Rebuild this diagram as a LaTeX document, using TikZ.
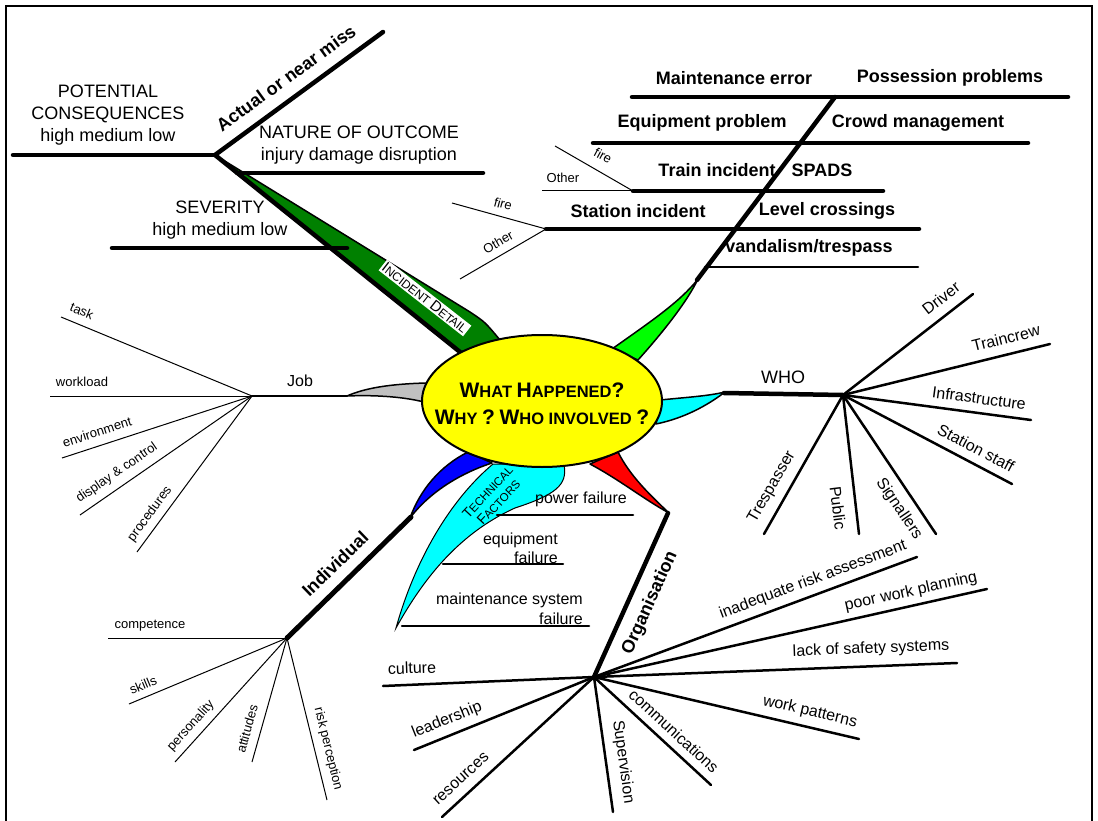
\documentclass[tikz,border=0pt]{standalone}
\usepackage{fontspec}
\setmainfont{Liberation Sans}
\usetikzlibrary{shapes.geometric}
\definecolor{idgreen}{RGB}{0,128,0}
\definecolor{limeg}{RGB}{0,255,0}
\definecolor{cyanc}{RGB}{0,255,255}
\definecolor{jobgrey}{RGB}{192,192,192}
\definecolor{blueb}{RGB}{0,0,255}
\definecolor{redr}{RGB}{255,0,0}
\definecolor{yellowc}{RGB}{255,255,0}
\newcommand\Bg[1]{{\fontsize{21}{27}\selectfont #1}}
\newcommand\Bi[1]{{\fontsize{15}{18}\selectfont #1}}
\newcommand\Bt[1]{{\fontsize{14}{16}\selectfont #1}}
\begin{document}
\begin{tikzpicture}[x=1pt,y=-1pt,
  thickln/.style={line width=4.5pt, line cap=round},
  medln/.style={line width=2.5pt, line cap=round},
  thinln/.style={line width=1pt},
  wedge/.style={draw=black, line width=1.5pt, line join=round},
  lbl/.style={inner sep=0pt, font=\fontsize{16}{19}\selectfont},
  biglbl/.style={inner sep=0pt, font=\fontsize{18}{22}\selectfont, align=center},
  boldlbl/.style={inner sep=0pt, font=\fontsize{18}{22}\selectfont\bfseries},
  smalllbl/.style={inner sep=0pt, font=\fontsize{13}{15}\selectfont},
]
\useasboundingbox (0,0) rectangle (1098,821);
% frame
\draw[line width=2.5pt] (6,821) -- (6,6) -- (1092,6) -- (1092,821);

% ---------- wedges ----------
\draw[wedge, fill=idgreen] (215,155) -- (470,312) .. controls (485,322) .. (500,340) -- (460,352) -- cycle;
\draw[wedge, fill=limeg] (612,349) .. controls (650,322) and (680,302) .. (698,279) .. controls (688,300) and (665,330) .. (638,360) -- cycle;
\draw[wedge, fill=cyanc] (660,400) .. controls (690,397) and (708,396) .. (725,392) .. controls (708,405) and (685,418) .. (656,424) -- cycle;
\draw[wedge, fill=jobgrey] (426,383) .. controls (390,384) and (365,388) .. (347,396) .. controls (370,395) and (400,396) .. (424,402) -- cycle;
\draw[wedge, fill=blueb] (468,452) .. controls (440,466) and (420,490) .. (410,518) .. controls (428,494) and (458,474) .. (492,463) -- cycle;
\draw[wedge, fill=redr] (590,464) .. controls (620,480) and (645,500) .. (669,513) .. controls (650,495) and (630,476) .. (618,452) -- cycle;
\draw[line width=1pt, fill=cyanc] (493,464) .. controls (450,500) and (415,560) .. (396,628) .. controls (420,585) and (455,535) .. (515,508) .. controls (555,495) and (568,485) .. (564,465) -- cycle;

% ---------- incident detail ----------
\coordinate (J1) at (215,155);
\coordinate (PC) at (13,155);
\coordinate (AN) at (383,32);
\coordinate (NOa) at (237,173); \coordinate (NOb) at (483,173);
\coordinate (SVa) at (112,248); \coordinate (SVb) at (347,248);
\coordinate (IDb) at (460,352);
\draw[thickln] (PC) -- (J1);
\draw[thickln] (J1) -- (AN);
\draw[thickln] (J1) -- (IDb);
\draw[thickln] (NOa) -- (NOb);
\draw[thickln] (SVa) -- (SVb);
\node[biglbl] (tPC) at (108,115) {POTENTIAL\\CONSEQUENCES\\high medium low};
\node[biglbl] (tNO) at (359,145) {NATURE OF OUTCOME\\injury damage disruption};
\node[biglbl] (tSV) at (220,220) {SEVERITY\\high medium low};
\node[boldlbl, rotate=36] (tAN) at (286,78) {Actual or near miss};
\node[fill=white, inner sep=1.5pt, rotate=-38, font=\fontsize{12}{14}\selectfont] (tID) at (425,298) {\Bi{I}NCIDENT \Bi{D}ETAIL};

% ---------- what happened (top right) ----------
\coordinate (S0) at (697,280); \coordinate (S1) at (835,97);
\coordinate (MEa) at (632,97); \coordinate (MEb) at (1068,97);
\coordinate (EQa) at (593,143); \coordinate (EQb) at (1028,143);
\coordinate (TIa) at (633,191); \coordinate (TIb) at (883,191);
\coordinate (STa) at (546,229); \coordinate (STb) at (919,229);
\coordinate (VAa) at (705,267); \coordinate (VAb) at (918,267);
\coordinate (TIf) at (555,146); \coordinate (TIo) at (542,191);
\coordinate (STf) at (452,203); \coordinate (STo) at (460,279);
\draw[thickln] (S0) -- (S1);
\draw[thickln] (MEa) -- (MEb);
\draw[thickln] (EQa) -- (EQb);
\draw[thickln] (TIa) -- (TIb);
\draw[thickln] (STa) -- (STb);
\draw[medln] (VAa) -- (VAb);
\draw[thinln] (TIf) -- (TIa);
\draw[thinln] (TIo) -- (TIa);
\draw[thinln] (STf) -- (STa);
\draw[thinln] (STo) -- (STa);
\node[boldlbl] (tME) at (734,78) {Maintenance error};
\node[boldlbl] (tPP) at (950,78) {Possession problems};
\node[boldlbl] (tEP) at (702,123) {Equipment problem};
\node[boldlbl] (tCM) at (918,123) {Crowd management};
\node[boldlbl] (tTI) at (717,170) {Train incident};
\node[boldlbl] (tSP) at (822,170) {SPADS};
\node[boldlbl] (tSI) at (638,211) {Station incident};
\node[boldlbl] (tLC) at (827,211) {Level crossings};
\node[boldlbl] (tVT) at (809,248) {vandalism/trespass};
\node[smalllbl, rotate=-28] (tF1) at (603,156) {fire};
\node[smalllbl] (tO1) at (563,178) {Other};
\node[smalllbl, rotate=-15] (tF2) at (503,204) {fire};
\node[smalllbl, rotate=30] (tO2) at (498,242) {Other};

% ---------- WHO ----------
\coordinate (W0) at (724,393); \coordinate (WH) at (843,395);
\coordinate (wDr) at (973,294); \coordinate (wTc) at (1050,344);
\coordinate (wIn) at (1031,420); \coordinate (wSs) at (1012,484);
\coordinate (wSg) at (936,534); \coordinate (wPu) at (859,534);
\coordinate (wTr) at (764,534);
\draw[thickln] (W0) -- (WH);
\foreach \e in {wDr,wTc,wIn,wSs,wSg,wPu,wTr} \draw[medln] (WH) -- (\e);
\node[inner sep=0pt, font=\fontsize{18}{22}\selectfont] (tWHO) at (783,377) {WHO};
\node[lbl, rotate=38] (tDr) at (941,298) {Driver};
\node[lbl, rotate=14] (tTc) at (1006,338) {Traincrew};
\node[lbl, rotate=-7.6] (tIn) at (979,398) {Infrastructure};
\node[lbl, rotate=-28] (tSs) at (976,448) {Station staff};
\node[lbl, rotate=-56] (tSg) at (899,509) {Signallers};
\node[lbl, rotate=-83] (tPu) at (838,508) {Public};
\node[lbl, rotate=60] (tTr) at (772,487) {Trespasser};

% ---------- Job ----------
\coordinate (JB0) at (347,396); \coordinate (JH) at (252,396);
\coordinate (jTa) at (61,317); \coordinate (jWo) at (50,396);
\coordinate (jEn) at (62,458); \coordinate (jDi) at (80,515);
\coordinate (jPr) at (137,552);
\draw[medln] (JB0) -- (JH);
\foreach \e in {jTa,jWo,jEn,jDi,jPr} \draw[thinln] (JH) -- (\e);
\node[lbl] (tJob) at (300,381) {Job};
\node[smalllbl, rotate=-22.5] (tTa) at (82,311) {task};
\node[smalllbl] (tWo) at (82,382) {workload};
\node[smalllbl, rotate=18] (tEn) at (97,432) {environment};
\node[smalllbl, rotate=34.7] (tDi) at (117,473) {display \& control};
\node[smalllbl, rotate=53.6] (tPr) at (150,514) {procedures};

% ---------- Individual ----------
\coordinate (IN0) at (411,517); \coordinate (IH) at (287,638);
\coordinate (iCo) at (108,638); \coordinate (iSk) at (129,704);
\coordinate (iPe) at (175,762); \coordinate (iAt) at (252,762);
\coordinate (iRi) at (327,800);
\draw[line width=5pt, line cap=round] (IN0) -- (IH);
\foreach \e in {iCo,iSk,iPe,iAt,iRi} \draw[thinln] (IH) -- (\e);
\node[boldlbl, rotate=44] (tInd) at (335,564) {Individual};
\node[smalllbl] (tCo) at (150,626) {competence};
\node[smalllbl, rotate=22.7] (tSk) at (143,685) {skills};
\node[smalllbl, rotate=47.9] (tPe) at (191,726) {personality};
\node[smalllbl, rotate=74.2] (tAt) at (247,729) {attitudes};
\node[smalllbl, rotate=-76] (tRi) at (328,749) {risk perception};

% ---------- Technical factors ----------
\coordinate (PFa) at (497,515); \coordinate (PFb) at (633,515);
\coordinate (EFa) at (443,564); \coordinate (EFb) at (563,564);
\coordinate (MSa) at (402,626); \coordinate (MSb) at (589,626);
\draw[medln] (PFa) -- (PFb);
\draw[medln] (EFa) -- (EFb);
\draw[medln] (MSa) -- (MSb);
\node[inner sep=0pt, rotate=47, align=center, font=\fontsize{11.5}{15}\selectfont] (tTF) at (493,497) {\Bt{T}ECHNICAL\\\Bt{F}ACTORS};
\node[lbl] (tPF) at (581,499) {power failure};
\node[lbl, anchor=east, align=right] (tEF) at (558,548) {equipment\\failure};
\node[lbl, anchor=east, align=right, font=\fontsize{16}{20}\selectfont] (tMS) at (583,609) {maintenance system\\failure};

% ---------- Organisation ----------
\coordinate (OR0) at (668,513); \coordinate (OH) at (594,677);
\coordinate (oCu) at (383,686); \coordinate (oLe) at (414,750);
\coordinate (oRe) at (442,817); \coordinate (oSu) at (613,812);
\coordinate (oCm) at (711,785); \coordinate (oWp) at (859,739);
\coordinate (oLa) at (957,663); \coordinate (oPo) at (987,589);
\coordinate (oIn) at (917,557);
\draw[thickln] (OR0) -- (OH);
\foreach \e in {oCu,oLe,oRe,oSu,oCm,oWp,oLa,oPo,oIn} \draw[medln] (OH) -- (\e);
\node[boldlbl, rotate=65.7] (tOrg) at (650,603) {Organisation};
\node[lbl, rotate=2] (tCu) at (412,668) {culture};
\node[lbl, rotate=22] (tLe) at (447,720) {leadership};
\node[lbl, rotate=42.6] (tRe) at (461,779) {resources};
\node[lbl, rotate=-82] (tSu) at (623,762) {Supervision};
\node[lbl, rotate=-42.7] (tCm) at (674,731) {communications};
\node[lbl, rotate=-13.2] (tWp) at (810,712) {work patterns};
\node[lbl, rotate=2.2] (tLa) at (871,649) {lack of safety systems};
\node[lbl, rotate=12.6] (tPo) at (911,592) {poor work planning};
\node[lbl, rotate=20.4] (tIa) at (813,580) {inadequate risk assessment};

% ---------- centre ----------
\node[ellipse, draw, line width=2pt, fill=yellowc, minimum width=240pt, minimum height=132pt, inner sep=0pt] (C) at (542,401) {};
\node[inner sep=0pt, align=center, font=\fontsize{16.5}{27}\selectfont\bfseries] (Ctext) at (542,404)
  {\Bg{W}HAT \Bg{H}APPENED\Bg{?}\\\Bg{W}HY \Bg{?} \Bg{W}HO INVOLVED \Bg{?}};
\end{tikzpicture}
\end{document}
